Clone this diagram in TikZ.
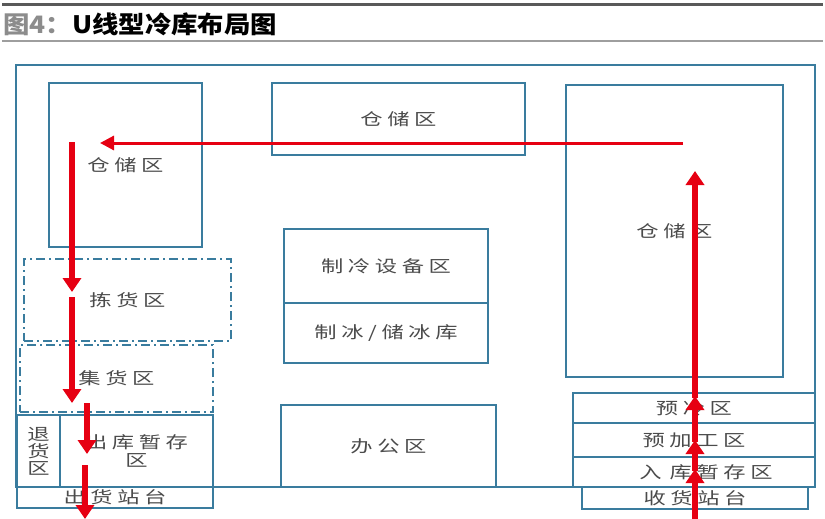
\documentclass[tikz,border=0pt]{standalone}
\usepackage{fontspec}
\usetikzlibrary{arrows.meta}
\newfontfamily\cjk[LetterSpace=28,FakeStretch=1.35]{Noto Sans CJK SC}
\newfontfamily\cjkt[FakeStretch=1.1]{Noto Sans CJK SC}
\definecolor{boxblue}{RGB}{58,124,158}
\definecolor{flowred}{RGB}{230,0,18}
\definecolor{txt}{RGB}{75,75,75}
\tikzset{
  zone/.style={draw=boxblue, line width=1.8pt, inner sep=0pt, text=txt,
    font=\cjk\fontsize{16.5}{18}\selectfont, align=center},
  dzone/.style={zone, dash pattern=on 9pt off 4pt on 2pt off 4pt},
  flow/.style={draw=flowred, line width=5.5pt, -{Triangle[width=18pt,length=14pt]}},
  thinflow/.style={draw=flowred, line width=3pt, -{Triangle[width=14pt,length=14pt]}}
}
\begin{document}
\begin{tikzpicture}[x=1pt,y=-1pt]
\useasboundingbox (0,0) rectangle (825,519);
% title rules and title
\draw[line width=3pt, color=black!65] (2,5) -- (823,5);
\draw[line width=2pt, color=black!38] (2,41) -- (823,41);
\node[anchor=west, inner sep=0pt, font=\cjkt\bfseries\fontsize{24}{28}\selectfont] (title) at (3,24)
  {\textcolor{black!45}{图4：}U线型冷库布局图};
% outer frame
\node[zone, minimum width=799pt, minimum height=422pt] (outer) at (415.5,276) {};
% zones
\node[zone, minimum width=153pt, minimum height=164pt] (lstore) at (125.5,165) {仓储区};
\node[zone, minimum width=253pt, minimum height=72pt] (mstore) at (398.5,119) {仓储区};
\node[zone, minimum width=217pt, minimum height=292pt] (rstore) at (674.5,231) {仓储区};
\node[zone, minimum width=204pt, minimum height=74pt] (refr) at (386,266) {制冷设备区};
\node[zone, minimum width=204pt, minimum height=60pt] (ice) at (386,333) {制冰/储冰库};
\node[zone, minimum width=215pt, minimum height=82pt] (office) at (388.5,446) {办公区};
\node[dzone, minimum width=207pt, minimum height=82pt] (pick) at (127.5,300) {拣货区};
\node[dzone, minimum width=193pt, minimum height=67pt] (collect) at (116.5,378.5) {集货区};
\node[zone, minimum width=43pt, minimum height=72pt] (ret) at (38.5,451) {退\\[-1pt]货\\[-1pt]区};
\node[zone, minimum width=153pt, minimum height=72pt] (outtemp) at (136.5,451) {出库暂存\\区};
\node[zone, minimum width=196pt, minimum height=21pt] (ship) at (115,497.5) {出货站台};
\node[zone, minimum width=242pt, minimum height=30pt] (precool) at (694,408) {预冷区};
\node[zone, minimum width=242pt, minimum height=34pt] (preproc) at (694,440) {预加工区};
\node[zone, minimum width=242pt, minimum height=30pt] (intemp) at (694,472) {\hspace*{24pt}入\hspace{8pt}库暂存区};
\node[zone, minimum width=226pt, minimum height=22pt] (recv) at (695,498) {收货站台};
% flow coordinates
\coordinate (h1) at (683,143);
\coordinate (h2) at (100,143);
\coordinate (l1) at (72,142);
\coordinate (l2) at (72,292);
\coordinate (l3) at (72,297);
\coordinate (l4) at (72,403);
\coordinate (l5) at (87,403);
\coordinate (l6) at (87,454);
\coordinate (l7) at (85,465);
\coordinate (l8) at (85,519);
\coordinate (r1) at (695,519);
\coordinate (r2) at (695,469);
\coordinate (r3) at (695,471);
\coordinate (r4) at (695,440);
\coordinate (r5) at (695,442);
\coordinate (r6) at (695,396);
\coordinate (r7) at (695,398);
\coordinate (r8) at (695,171);
% flows
\draw[thinflow] (h1) -- (h2);
\draw[flow] (l1) -- (l2);
\draw[flow] (l3) -- (l4);
\draw[flow] (l5) -- (l6);
\draw[flow] (l7) -- (l8);
\draw[flow] (r1) -- (r2);
\draw[flow] (r3) -- (r4);
\draw[flow] (r5) -- (r6);
\draw[flow] (r7) -- (r8);
\end{tikzpicture}
\end{document}
